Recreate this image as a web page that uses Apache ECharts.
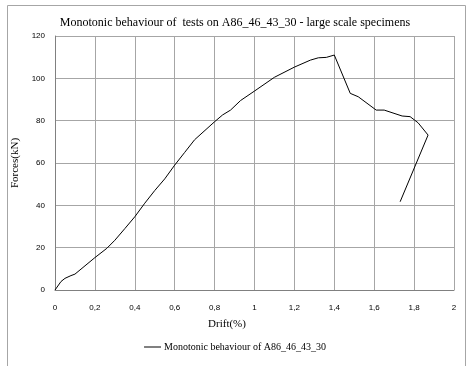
<!DOCTYPE html>
<html>
<head>
<meta charset="utf-8">
<script src="https://cdn.jsdelivr.net/npm/echarts@6/dist/echarts.min.js"></script>
<style>
  html, body { margin: 0; padding: 0; background: #fff; }
  #main { width: 470px; height: 366px; }
</style>
</head>
<body>
<div id="main"></div>
<script>
// drift (%) and force (kN)
let driftList = [0, 0.03, 0.05, 0.08, 0.1, 0.2, 0.26, 0.3, 0.35, 0.4, 0.45, 0.5, 0.55, 0.6, 0.65, 0.7, 0.8, 0.84, 0.88, 0.93, 1.0, 1.1, 1.2, 1.28, 1.32, 1.36, 1.4, 1.48, 1.52, 1.61, 1.65, 1.74, 1.78, 1.82, 1.87, 1.73]
let forceList = [0, 4, 5.5, 6.8, 7.5, 15.3, 19.7, 23.5, 29, 34.6, 41, 47, 52.5, 59, 65, 71, 79.5, 82.7, 85, 89.5, 94, 100.5, 105.3, 108.6, 109.7, 109.9, 111, 92.9, 91.3, 85, 85, 82.2, 81.9, 79, 73.2, 41.7]
let xTicks = [0, 0.2, 0.4, 0.6, 0.8, 1, 1.2, 1.4, 1.6, 1.8, 2]
let yTicks = [0, 20, 40, 60, 80, 100, 120]
let seriesName = 'Monotonic behaviour of A86_46_43_30'

let chart = echarts.init(document.getElementById('main'), null, { renderer: 'canvas' })

function getOption() {
  let points = driftList.map((d, i) => [d, forceList[i]])
  return {
    animation: false,
    title: {
      text: 'Monotonic behaviour of  tests on A86_46_43_30 - large scale specimens',
      left: 'center',
      top: 12,
      textStyle: { fontFamily: 'Liberation Serif', fontSize: 12, fontWeight: 'normal', color: '#000' }
    },
    graphic: [{
      type: 'rect',
      shape: { x: 7.5, y: 5.5, width: 458, height: 370 },
      style: { fill: 'none', stroke: '#a6a6a6', lineWidth: 1 },
      silent: true
    }],
    legend: {
      data: [seriesName],
      bottom: 9,
      left: 'center',
      itemWidth: 17,
      itemHeight: 1,
      icon: 'rect',
      itemGap: 3,
      textStyle: { fontFamily: 'Liberation Serif', fontSize: 10, color: '#000', padding: [0, 0, 0, -2] }
    },
    grid: { left: 55, right: 16, top: 36, bottom: 76 },
    xAxis: {
      type: 'value',
      min: xTicks[0],
      max: xTicks[xTicks.length - 1],
      interval: 0.2,
      name: 'Drift(%)',
      nameLocation: 'middle',
      nameGap: 29,
      nameTextStyle: { fontFamily: 'Liberation Serif', fontSize: 11, color: '#000', padding: [0, 55, 0, 0] },
      axisLine: { lineStyle: { color: '#808080' } },
      axisTick: { show: false },
      axisLabel: {
        fontFamily: 'Liberation Sans', fontSize: 8, color: '#000', margin: 14,
        formatter: v => String(Math.round(v * 10) / 10).replace('.', ',')
      },
      splitLine: { show: true, lineStyle: { color: '#a6a6a6' } }
    },
    yAxis: {
      type: 'value',
      min: yTicks[0],
      max: yTicks[yTicks.length - 1],
      interval: 20,
      name: 'Forces(kN)',
      nameLocation: 'middle',
      nameGap: 24,
      nameTextStyle: { fontFamily: 'Liberation Serif', fontSize: 11, color: '#000' },
      axisLine: { show: true, lineStyle: { color: '#808080' } },
      axisTick: { show: false },
      axisLabel: { fontFamily: 'Liberation Sans', fontSize: 8, color: '#000', margin: 10 },
      splitLine: { show: true, lineStyle: { color: '#a6a6a6' } }
    },
    series: [{
      name: seriesName,
      type: 'line',
      data: points,
      showSymbol: false,
      symbol: 'none',
      lineStyle: { color: '#000', width: 1 },
      itemStyle: { color: '#000' }
    }]
  }
}

chart.setOption(getOption())
</script>
</body>
</html>
